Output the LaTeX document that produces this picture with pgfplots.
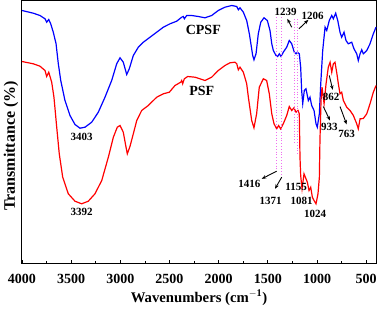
\documentclass[border=0pt]{standalone}
\usepackage{fontspec}
\setmainfont{Liberation Serif}
\usepackage{pgfplots}
\pgfplotsset{compat=1.18}
\usetikzlibrary{arrows.meta}
\definecolor{dotmag}{RGB}{240,110,240}
\begin{document}
\begin{tikzpicture}
\begin{axis}[
  width=354pt, height=263pt, scale only axis,
  x dir=reverse, xmin=400, xmax=4000, ymin=-7, ymax=256,
  xtick={500,1000,...,4000}, minor x tick num=1,
  ytick=\empty, xtick pos=bottom, tick align=inside,
  major tick length=4pt, minor tick length=2.5pt,
  axis line style={line width=1pt}, every tick/.style={black, line width=0.8pt},
  /pgf/number format/assume math mode=true,
  /pgf/number format/1000 sep={},
  xticklabel style={font=\bfseries\fontsize{14}{15}\selectfont, anchor=base, yshift=-20pt},
  xlabel={Wavenumbers (cm$^{\mathbf{-1}}$)},
  ylabel={Transmittance (\%)},
  xlabel style={font=\bfseries\fontsize{14.7}{16}\selectfont, at={(axis description cs:0.5,0)}, anchor=base, yshift=-38.5pt},
  ylabel style={font=\bfseries\fontsize{16}{17}\selectfont, at={(axis description cs:-0.0198,0.447)}, anchor=base},
  clip=false,
]
% CPSF
\addplot[blue, line width=1.2pt] coordinates {
(4000,246)(3885,243.3)(3817,241)(3766,237.7)(3749,234.3)(3728,237)(3708,232.7)(3682,224.3)(3654,213)(3631,193)(3606,176)(3563,156)(3512,141)(3461,132)(3410,128.3)(3359,129.3)(3291,134.3)(3224,144.3)(3156,159.3)(3088,176)(3037,192.7)(3003,198.7)(2970,194.3)(2935,182)(2909,187.7)(2868,201)(2817,209.3)(2766,214.3)(2698,219.3)(2630,224.3)(2563,229.3)(2495,232.7)(2427,235.3)(2376,239.3)(2360,240)(2349,237.7)(2325,241)(2274,241)(2207,240)(2139,238.7)(2071,241)(2004,246)(1936,249.3)(1867,251)(1816,250)(1800,246.7)(1783,248.7)(1749,244.3)(1715,236)(1688,222.7)(1654,201)(1641,196.7)(1620,202.7)(1597,222.7)(1572,234.3)(1539,238.7)(1505,236)(1478,226)(1460,212.7)(1444,206)(1417,201)(1400,200)(1383,202.7)(1366,200)(1343,204.3)(1308,209.3)(1282,216)(1257,212.7)(1231,204.3)(1213,202.7)(1200,204.3)(1180,202.7)(1166,189.3)(1156,166)(1145,153)(1129,166)(1112,167.7)(1088,156)(1071,159.3)(1054,151)(1030,146)(1010,132.7)(997,129.3)(976,142.7)(962,172.7)(942,206)(918,229.3)(901,226)(875,236)(850,241)(834,237.7)(810,243.3)(789,236)(766,224.3)(749,219.3)(725,224.3)(705,216)(682,212.7)(647,214.3)(624,207.7)(596,202.7)(580,196)(562,202.7)(545,206.7)(529,202.7)(494,206)(461,212.7)(427,222.7)(400,229.3)
};
% PSF
\addplot[red, line width=1.2pt] coordinates {
(4000,195)(3885,192.7)(3817,190.3)(3766,186)(3749,180)(3728,184.3)(3698,174.3)(3675,159.3)(3647,129.3)(3621,102.7)(3586,79.3)(3529,62.7)(3461,55.3)(3393,52.7)(3326,55.3)(3258,62.7)(3189,76)(3122,99.3)(3071,119.3)(3031,129.3)(3003,131)(2970,124.3)(2942,109.3)(2929,102.7)(2902,110)(2868,122.7)(2833,136)(2783,146)(2716,151)(2630,159.3)(2563,162.7)(2502,164.3)(2444,171)(2386,174.3)(2376,176)(2366,172.7)(2349,177.7)(2315,180)(2241,179.3)(2190,177.7)(2139,176)(2071,179.3)(2004,186)(1936,191)(1885,193.7)(1834,194.3)(1816,192.7)(1800,186.7)(1783,189.3)(1749,184.3)(1715,172.7)(1698,159.3)(1664,136)(1641,128.7)(1614,142.7)(1587,169.3)(1546,177.7)(1512,176)(1485,162.7)(1460,142.7)(1437,132.7)(1410,127.7)(1390,131)(1370,127.7)(1343,132.7)(1308,141)(1282,150)(1257,146)(1234,148.7)(1213,144.3)(1193,146)(1180,142.7)(1173,99.3)(1166,81)(1152,67.7)(1132,82.7)(1098,74.3)(1081,66)(1064,69.3)(1047,59.3)(1030,56)(1010,52.7)(990,62.7)(976,79.3)(970,116)(959,156)(949,169.3)(928,152.7)(908,172.7)(885,189.3)(867,194.3)(850,184.3)(834,192.7)(817,194.3)(800,184.3)(783,172.7)(766,162.7)(749,164.3)(732,156)(698,149.3)(664,146)(630,141)(596,132.7)(580,127.7)(562,137.7)(529,138)(494,142.7)(461,152.7)(427,164.3)(400,171)
};
% dotted guide lines
\addplot[dotmag, dotted, line width=0.8pt] coordinates {(1410,239.3)(1410,86)};
\addplot[dotmag, dotted, line width=0.8pt] coordinates {(1366,239.3)(1366,77.7)};
\addplot[dotmag, dotted, line width=0.8pt] coordinates {(1234,237.7)(1234,112.7)};
\addplot[dotmag, dotted, line width=0.8pt] coordinates {(1200,237.7)(1200,102.7)};
% arrows
\begin{scope}[-{Stealth[length=4.5pt,width=3.5pt]}, line width=0.9pt]
\draw (axis cs:1257,229.3) -- (axis cs:1302,237.7);
\draw (axis cs:1183,227.7) -- (axis cs:1088,236.7);
\draw (axis cs:1410,85.3) -- (axis cs:1562,77.7);
\draw (axis cs:1359,79.3) -- (axis cs:1427,67.7);
\draw (axis cs:875,181) -- (axis cs:840,166.7);
\draw (axis cs:936,150) -- (axis cs:868,136);
\draw (axis cs:766,150) -- (axis cs:698,132);
\end{scope}
% labels
\begin{scope}[font=\bfseries\fontsize{11}{12}\selectfont]
\node at (axis cs:3393,119.3) {3403};
\node at (axis cs:3393,44.3) {3392};
\node at (axis cs:1318,244.3) {1239};
\node at (axis cs:1044,241) {1206};
\node at (axis cs:1688,72.7) {1416};
\node at (axis cs:1471,56) {1371};
\node at (axis cs:1213,69.3) {1155};
\node at (axis cs:1156,56) {1081};
\node at (axis cs:1020,42.7) {1024};
\node at (axis cs:857,159.3) {862};
\node at (axis cs:875,130) {933};
\node at (axis cs:698,122.7) {763};
\end{scope}
\node[font=\bfseries\fontsize{14}{15}\selectfont] at (axis cs:2156,226.7) {CPSF};
\node[font=\bfseries\fontsize{14}{15}\selectfont] at (axis cs:2172,166) {PSF};
\end{axis}
\pgfresetboundingbox
\path[use as bounding box] ([xshift=-22pt,yshift=-45pt]current axis.south west) rectangle ([xshift=2pt,yshift=0.5pt]current axis.north east);
\end{tikzpicture}
\end{document}
